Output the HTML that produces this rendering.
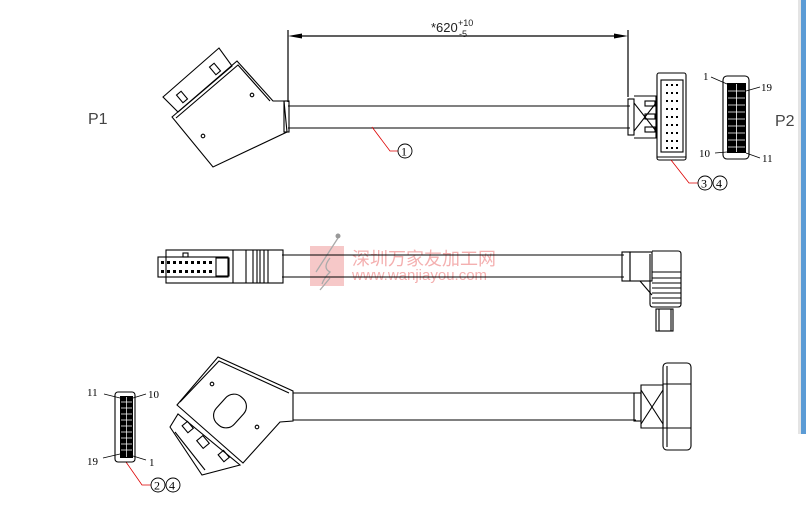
<!DOCTYPE html>
<html><head><meta charset="utf-8"><style>
html,body{margin:0;padding:0;background:#fff;width:806px;height:522px;overflow:hidden}
svg{display:block}
text{font-family:"Liberation Serif",serif}
.s{font-family:"Liberation Sans",sans-serif}
</style></head><body>
<svg width="806" height="522" viewBox="0 0 806 522" xmlns="http://www.w3.org/2000/svg">
<rect width="806" height="522" fill="#fff"/>
<!-- right blue strip -->
<rect x="798" y="0" width="3" height="434" fill="#e4e4e4"/>
<rect x="801" y="0" width="5" height="434" fill="#5b9bd5"/>

<g fill="none" stroke="#000" stroke-width="1.2">
<!-- dimension -->
<line x1="288" y1="30" x2="288" y2="102"/>
<line x1="628" y1="30" x2="628" y2="97"/>
<line x1="296" y1="36" x2="620" y2="36"/>
</g>
<polygon points="288,36 302,33.5 302,38.5" fill="#000"/>
<polygon points="628,36 614,33.5 614,38.5" fill="#000"/>
<text x="431" y="32" class="s" font-size="13" fill="#222">*620</text>
<text x="458" y="26" class="s" font-size="9" fill="#222">+10</text>
<text x="459" y="37" class="s" font-size="9" fill="#222">-5</text>

<text x="88" y="124" class="s" font-size="16" fill="#444">P1</text>
<text x="775" y="126" class="s" font-size="16" fill="#444">P2</text>

<g fill="none" stroke="#000" stroke-width="1.1">
<!-- TOP: cable -->
<line x1="288" y1="106" x2="630" y2="106"/>
<line x1="288" y1="128" x2="630" y2="128"/>
<rect x="284" y="101" width="5" height="31"/>
<!-- P1 top connector -->
<polygon points="163,97 219,48 232,66 178,112"/>
<polygon points="172,117 237,61 273,101 284,101 287,132 213,167"/>
<polyline points="176,118 238,65 270,101"/>
<circle cx="252" cy="95" r="1.8"/><circle cx="203" cy="136" r="1.8"/>
<rect x="212" y="64" width="6" height="10" transform="rotate(-40 215 69)"/>
<rect x="179" y="92" width="6" height="10" transform="rotate(-40 182 97)"/>
<!-- right top connector -->
<rect x="628" y="99" width="6" height="36"/>
<path d="M634,96 h22 v42 h-22"/>
<line x1="634" y1="103" x2="656" y2="131"/><line x1="634" y1="131" x2="656" y2="103"/>
<rect x="645" y="101" width="10" height="5"/><rect x="645" y="114" width="10" height="5"/><rect x="645" y="127" width="10" height="5"/>
<rect x="657" y="73" width="29" height="87" rx="2"/>
<rect x="661" y="80" width="22" height="72"/>
<line x1="657" y1="157" x2="686" y2="157"/>
<!-- P2 face -->
<rect x="723" y="76" width="26" height="83" rx="4"/>
</g>
<!-- pin grids -->
<g fill="#000">
<rect x="727" y="83" width="19" height="70"/>
</g>
<g fill="#fff">
<script>/* no script */</script>
</g>
<g fill="#fff" stroke="none" id="g1"></g>
<g fill="#000">
<!-- top connector pin dots -->
<rect x="666" y="84" width="2" height="2"/><rect x="671" y="84" width="2" height="2"/><rect x="676" y="84" width="2" height="2"/>
<rect x="666" y="92" width="2" height="2"/><rect x="671" y="92" width="2" height="2"/><rect x="676" y="92" width="2" height="2"/>
<rect x="666" y="100" width="2" height="2"/><rect x="671" y="100" width="2" height="2"/><rect x="676" y="100" width="2" height="2"/>
<rect x="666" y="108" width="2" height="2"/><rect x="671" y="108" width="2" height="2"/><rect x="676" y="108" width="2" height="2"/>
<rect x="666" y="116" width="2" height="2"/><rect x="671" y="116" width="2" height="2"/><rect x="676" y="116" width="2" height="2"/>
<rect x="666" y="124" width="2" height="2"/><rect x="671" y="124" width="2" height="2"/><rect x="676" y="124" width="2" height="2"/>
<rect x="666" y="132" width="2" height="2"/><rect x="671" y="132" width="2" height="2"/><rect x="676" y="132" width="2" height="2"/>
<rect x="666" y="140" width="2" height="2"/><rect x="671" y="140" width="2" height="2"/><rect x="676" y="140" width="2" height="2"/>
<rect x="666" y="147" width="2" height="2"/><rect x="671" y="147" width="2" height="2"/><rect x="676" y="147" width="2" height="2"/>
</g>
<g fill="none" stroke="#fff" stroke-width="0.8">
<path d="M736.5,84 V152 M728,91 H745 M728,98 H745 M728,105 H745 M728,112 H745 M728,119 H745 M728,126 H745 M728,133 H745 M728,140 H745 M728,147 H745"/>
</g>
<g stroke="#000" stroke-width="0.8">
<line x1="711" y1="77" x2="727" y2="84"/><line x1="746" y1="91" x2="760" y2="87"/>
<line x1="715" y1="153" x2="727" y2="152"/><line x1="746" y1="153" x2="760" y2="158"/>
</g>
<text x="703" y="80" font-size="11">1</text>
<text x="761" y="91" font-size="11">19</text>
<text x="699" y="157" font-size="11">10</text>
<text x="762" y="162" font-size="11">11</text>
<!-- callouts -->
<g fill="none" stroke="#d00" stroke-width="0.8">
<polyline points="372,127 390,151 398,151"/>
<polyline points="671,160 689,183 698,183"/>
<polyline points="126,462 142,485 151,485"/>
</g>
<g fill="none" stroke="#000" stroke-width="0.9">
<circle cx="405" cy="151" r="7"/>
<circle cx="705" cy="183" r="7"/><circle cx="720" cy="183" r="7"/>
<circle cx="158" cy="485" r="7"/><circle cx="173" cy="485" r="7"/>
</g>
<text x="401" y="155.5" font-size="12">1</text>
<text x="701" y="187.5" font-size="12">3</text><text x="716" y="187.5" font-size="12">4</text>
<text x="154" y="489.5" font-size="12">2</text><text x="169" y="489.5" font-size="12">4</text>

<!-- watermark -->
<rect x="310" y="246" width="34" height="40" fill="#f6c8c8"/>
<path d="M338,238 L316,272 M330,258 q-8,10 0,14 q-6,6 -8,12 M330,278 L320,290" stroke="#aaa" stroke-width="1.3" fill="none"/>
<circle cx="338" cy="236" r="2.5" fill="#999"/>
<text x="352" y="265" font-size="18" fill="#f4b0b0" style="font-family:'Liberation Sans','Noto Sans CJK SC',sans-serif">深圳万家友加工网</text>
<text x="352" y="280" class="s" font-size="15" fill="#f4b0b0">www.wanjiayou.com</text>

<g fill="none" stroke="#000" stroke-width="1.1">
<!-- MIDDLE -->
<line x1="282" y1="255" x2="624" y2="255"/>
<line x1="282" y1="277" x2="624" y2="277"/>
<rect x="166" y="250" width="117" height="33"/>
<rect x="158" y="257" width="70" height="20"/>
<rect x="216" y="258" width="13" height="18"/>
<line x1="233" y1="250" x2="233" y2="283"/>
<line x1="253" y1="250" x2="253" y2="283"/><line x1="246" y1="250" x2="246" y2="283"/>
<line x1="257" y1="250" x2="257" y2="283"/><line x1="260" y1="250" x2="260" y2="283"/><line x1="264" y1="250" x2="264" y2="283"/>
<line x1="268" y1="250" x2="268" y2="283"/>
<rect x="183" y="253" width="5" height="4"/>
<!-- right angle connector -->
<rect x="622" y="252" width="8" height="29"/>
<rect x="630" y="252" width="22" height="29"/>
<path d="M652,251 h26 q3,0 3,3 v50 q0,3 -3,3 h-25 q-3,0 -3,-3 v-50"/>
<path d="M652,272 h29 M652,278 h29 M652,283 h29 M652,288 h29 M652,293 h29 M652,298 h29 M652,303 h29"/>
<line x1="640" y1="281" x2="652" y2="295"/>
<rect x="656" y="309" width="17" height="22"/>
<line x1="659" y1="309" x2="659" y2="331"/><line x1="671" y1="309" x2="671" y2="331"/>
</g>
<g fill="#000">
<rect x="161" y="261" width="3" height="3"/><rect x="167" y="261" width="3" height="3"/><rect x="173" y="261" width="3" height="3"/><rect x="179" y="261" width="3" height="3"/><rect x="185" y="261" width="3" height="3"/><rect x="191" y="261" width="3" height="3"/><rect x="197" y="261" width="3" height="3"/><rect x="203" y="261" width="3" height="3"/><rect x="209" y="261" width="3" height="3"/>
<rect x="161" y="270" width="3" height="3"/><rect x="167" y="270" width="3" height="3"/><rect x="173" y="270" width="3" height="3"/><rect x="179" y="270" width="3" height="3"/><rect x="185" y="270" width="3" height="3"/><rect x="191" y="270" width="3" height="3"/><rect x="197" y="270" width="3" height="3"/><rect x="203" y="270" width="3" height="3"/><rect x="209" y="270" width="3" height="3"/>
</g>

<g fill="none" stroke="#000" stroke-width="1.1">
<!-- BOTTOM -->
<line x1="293" y1="393" x2="636" y2="393"/>
<line x1="293" y1="420" x2="636" y2="420"/>
<polygon points="218,357 293,391 293,421 280,422 243,463 177,405"/>
<polyline points="180,402 219,361 289,393"/>
<polygon points="170,427 178,414 240,465 202,475"/>
<line x1="175" y1="432" x2="205" y2="470"/>
<rect x="218" y="393" width="24" height="36" rx="11" transform="rotate(42 230 411)"/>
<circle cx="212" cy="384" r="1.8"/><circle cx="257" cy="427" r="1.8"/>
<rect x="184" y="423" width="7" height="9" transform="rotate(-40 187 427)"/>
<rect x="199" y="437" width="8" height="10" transform="rotate(-40 203 442)"/>
<rect x="220" y="452" width="7" height="9" transform="rotate(-40 223 456)"/>
<!-- T connector -->
<rect x="634" y="393" width="7" height="28"/>
<path d="M641,385 h22 v43 h-22 z"/>
<line x1="641" y1="390" x2="663" y2="424"/><line x1="641" y1="424" x2="663" y2="390"/>
<rect x="663" y="363" width="28" height="87" rx="4"/>
<line x1="663" y1="384" x2="691" y2="384"/><line x1="663" y1="428" x2="691" y2="428"/>
<line x1="667" y1="366" x2="667" y2="447"/>
<!-- bottom small face -->
<rect x="115" y="392" width="20" height="70" rx="3"/>
</g>
<rect x="120" y="396" width="13" height="62" fill="#000"/>
<g fill="none" stroke="#fff" stroke-width="0.7">
<path d="M126.5,397 V457 M121,402 H132 M121,408 H132 M121,414 H132 M121,420 H132 M121,426 H132 M121,432 H132 M121,438 H132 M121,444 H132 M121,450 H132"/>
</g>
<g stroke="#000" stroke-width="0.8">
<line x1="104" y1="394" x2="120" y2="398"/><line x1="133" y1="398" x2="146" y2="394"/>
<line x1="103" y1="458" x2="120" y2="454"/><line x1="133" y1="456" x2="146" y2="460"/>
</g>
<text x="87" y="396" font-size="11">11</text>
<text x="148" y="398" font-size="11">10</text>
<text x="87" y="465" font-size="11">19</text>
<text x="149" y="466" font-size="11">1</text>
</svg>
</body></html>
